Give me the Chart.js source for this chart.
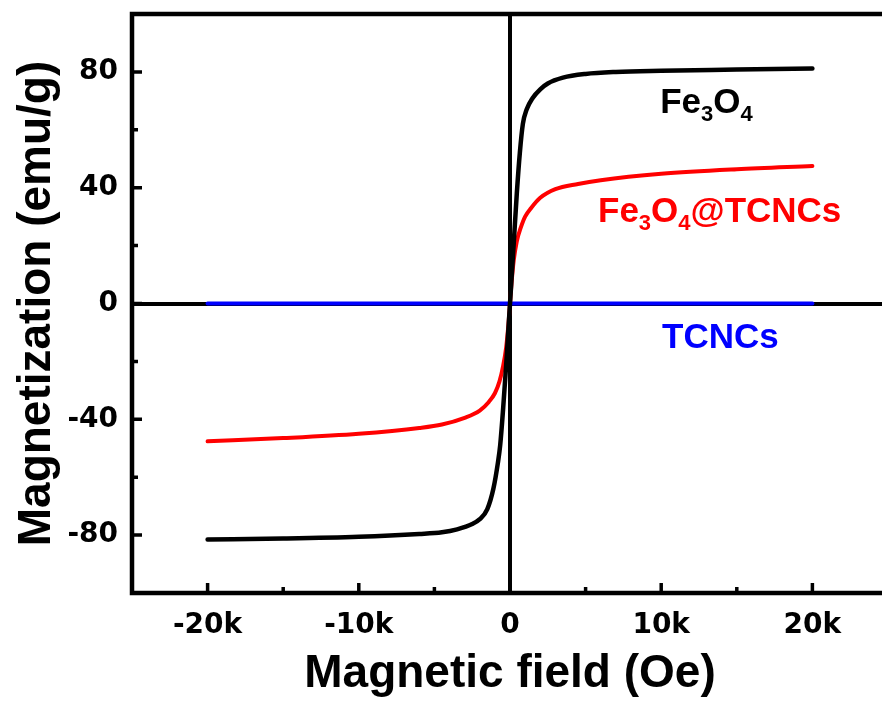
<!DOCTYPE html>
<html>
<head>
<meta charset="utf-8">
<script src="https://cdn.jsdelivr.net/npm/chart.js@4.4.1/dist/chart.umd.min.js"></script>
<style>
  html, body { margin: 0; padding: 0; background: #fff; overflow: hidden; }
  #wrap { width: 882px; height: 704px; overflow: hidden; position: relative; }
  canvas { display: block; }
</style>
</head>
<body>
<div id="wrap"><canvas id="mh" width="890" height="704"></canvas></div>
<script>
(function () {
  'use strict';

  // --- data ---
  var fieldFe3O4 = [-20000, -15000, -10000, -6000, -4500, -3500, -2500, -2000, -1500, -1100, -800, -650, -450, -250, 0,
    250, 450, 650, 850, 1100, 1500, 2000, 2500, 3500, 5000, 7000, 10000, 15000, 20000];
  var magFe3O4 = [-81.5, -81.2, -80.6, -79.6, -79.0, -78.0, -76.2, -74.5, -71.0, -64.0, -55.0, -49.0, -36.0, -21.0, 0,
    21.0, 38.0, 52.0, 62.0, 67.0, 71.0, 74.0, 76.0, 78.0, 79.3, 80.0, 80.4, 80.8, 81.2];

  var fieldComposite = [-20000, -15000, -10000, -6000, -4500, -3000, -2000, -1400, -1000, -700, -450, -250, -100, 0,
    100, 250, 450, 700, 1000, 1400, 2000, 3000, 4500, 6000, 10000, 15000, 20000];
  var magComposite = [-47.6, -46.5, -45.0, -43.0, -41.8, -39.5, -37.0, -34.0, -31.0, -27.0, -21.5, -15.0, -7.0, 0,
    7.0, 15.0, 21.5, 26.0, 30.0, 33.0, 36.5, 39.5, 41.3, 42.6, 44.8, 46.4, 47.5];

  var fieldTCNCs = [-20000, -10000, 0, 10000, 20000];
  var magTCNCs = [0, 0, 0, 0, 0];

  var xTickValues = [-20000, -10000, 0, 10000, 20000];
  var xTickLabels = ['-20k', '-10k', '0', '10k', '20k'];
  var xMinorValues = [-25000, -15000, -5000, 5000, 15000, 25000];
  var yTickValues = [-80, -40, 0, 40, 80];
  var yTickLabels = ['-80', '-40', '0', '40', '80'];
  var yMinorValues = [-100, -60, -20, 20, 60, 100];

  // curve labels, anchored in data units (left edge, baseline)
  var curveLabels = [
    { x: 9930, y: 65.7, color: '#000000', parts: [['Fe', 0], ['3', 1], ['O', 0], ['4', 1]] },
    { x: 5820, y: 28.2, color: '#ff0000', parts: [['Fe', 0], ['3', 1], ['O', 0], ['4', 1], ['@TCNCs', 0]] },
    { x: 10060, y: -15.4, color: '#0000ff', parts: [['TCNCs', 0]] }
  ];

  function pts(xs, ys) {
    return xs.map(function (x, i) { return { x: x, y: ys[i] }; });
  }

  function zeroLine(ctx) {
    return ctx.tick && ctx.tick.value === 0 ? '#000000' : 'rgba(0,0,0,0)';
  }

  // frame, inward ticks and curve labels
  var decor = {
    id: 'decor',
    afterDraw: function (chart) {
      var c = chart.ctx;
      var a = chart.chartArea;
      var xs = chart.scales.x, ys = chart.scales.y;
      c.save();
      c.strokeStyle = '#000';
      c.lineWidth = 4.5;
      c.strokeRect(a.left, a.top, a.right - a.left, a.bottom - a.top);

      c.lineWidth = 3.5;
      c.beginPath();
      xTickValues.forEach(function (v) {
        var p = xs.getPixelForValue(v);
        c.moveTo(p, a.bottom); c.lineTo(p, a.bottom - 10);
      });
      xMinorValues.forEach(function (v) {
        var p = xs.getPixelForValue(v);
        c.moveTo(p, a.bottom); c.lineTo(p, a.bottom - 6);
      });
      yTickValues.forEach(function (v) {
        var p = ys.getPixelForValue(v);
        c.moveTo(a.left, p); c.lineTo(a.left + 10, p);
      });
      yMinorValues.forEach(function (v) {
        var p = ys.getPixelForValue(v);
        c.moveTo(a.left, p); c.lineTo(a.left + 6, p);
      });
      c.stroke();

      c.textBaseline = 'alphabetic';
      c.textAlign = 'left';
      curveLabels.forEach(function (lab) {
        var px = xs.getPixelForValue(lab.x);
        var py = ys.getPixelForValue(lab.y);
        c.fillStyle = lab.color;
        lab.parts.forEach(function (part) {
          var sub = part[1] === 1;
          c.font = sub ? 'bold 22px "Liberation Sans", Arial, sans-serif'
                       : 'bold 35px "Liberation Sans", Arial, sans-serif';
          c.fillText(part[0], px, sub ? py + 8 : py);
          px += c.measureText(part[0]).width;
        });
      });
      c.restore();
    }
  };

  var tickFont = { family: '"DejaVu Sans", sans-serif', size: 28, weight: 'bold' };
  var titleFont = { family: '"Liberation Sans", Arial, sans-serif', size: 46, weight: 'bold' };

  new Chart(document.getElementById('mh'), {
    type: 'scatter',
    data: {
      datasets: [
        {
          label: 'Fe3O4',
          data: pts(fieldFe3O4, magFe3O4),
          borderColor: '#000000',
          borderWidth: 4.5,
          order: 1
        },
        {
          label: 'Fe3O4@TCNCs',
          data: pts(fieldComposite, magComposite),
          borderColor: '#ff0000',
          borderWidth: 4,
          order: 2
        },
        {
          label: 'TCNCs',
          data: pts(fieldTCNCs, magTCNCs),
          borderColor: '#0000ff',
          borderWidth: 4,
          order: 3
        }
      ]
    },
    options: {
      responsive: false,
      animation: false,
      devicePixelRatio: 1,
      layout: { padding: { top: 14, right: 2, left: 0, bottom: 0 } },
      datasets: {
        scatter: {
          showLine: true,
          pointRadius: 0,
          pointHoverRadius: 0,
          cubicInterpolationMode: 'monotone',
          borderCapStyle: 'round',
          borderJoinStyle: 'round'
        }
      },
      plugins: {
        legend: { display: false },
        tooltip: { enabled: false }
      },
      scales: {
        x: {
          type: 'linear',
          min: -25000,
          max: 25000,
          afterBuildTicks: function (s) { s.ticks = xTickValues.map(function (v) { return { value: v }; }); },
          afterFit: function (s) { s.height = 111; s.paddingLeft = 0; s.paddingRight = 0; },
          grid: { color: zeroLine, lineWidth: 4, drawTicks: false },
          border: { display: false },
          ticks: {
            color: '#000',
            font: tickFont,
            padding: 16,
            maxRotation: 0,
            autoSkip: false,
            callback: function (v) { return xTickLabels[xTickValues.indexOf(v)]; }
          },
          title: {
            display: true,
            text: 'Magnetic field (Oe)',
            color: '#000',
            font: titleFont,
            padding: { top: 0, bottom: 2 }
          }
        },
        y: {
          type: 'linear',
          min: -100,
          max: 100,
          afterBuildTicks: function (s) { s.ticks = yTickValues.map(function (v) { return { value: v }; }); },
          afterFit: function (s) { s.width = 132; s.paddingTop = 0; s.paddingBottom = 0; },
          grid: { color: zeroLine, lineWidth: 4, drawTicks: false },
          border: { display: false },
          ticks: {
            color: '#000',
            font: tickFont,
            padding: 14,
            autoSkip: false,
            callback: function (v) { return yTickLabels[yTickValues.indexOf(v)]; }
          },
          title: {
            display: true,
            text: 'Magnetization (emu/g)',
            color: '#000',
            font: titleFont,
            padding: { top: 10, bottom: 0 }
          }
        }
      }
    },
    plugins: [decor]
  });
})();
</script>
</body>
</html>
